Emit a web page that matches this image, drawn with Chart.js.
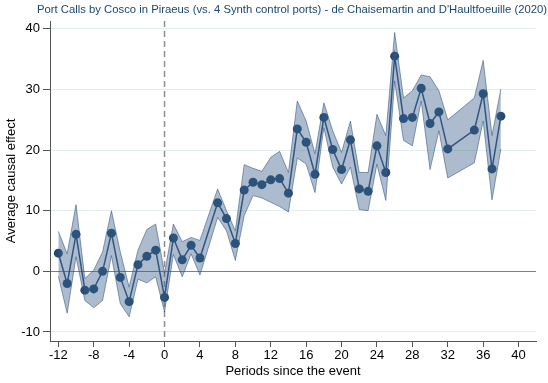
<!DOCTYPE html>
<html>
<head>
<meta charset="utf-8">
<script src="https://cdn.jsdelivr.net/npm/chart.js@4"></script>
<style>
  html, body { margin: 0; padding: 0; background: #fff; }
  #wrap { width: 548px; height: 383px; }
</style>
</head>
<body>
<div id="wrap"><canvas id="c"></canvas></div>
<script>
/* Event-study chart: effect estimates with a confidence band */

const periods = [-12, -11, -10, -9, -8, -7, -6, -5, -4, -3, -2, -1, 0, 1, 2, 3, 4,
    6, 7, 8, 9, 10, 11, 12, 13, 14, 15, 16, 17, 18, 19, 20, 21, 22, 23, 24, 25,
    26, 27, 28, 29, 30, 31, 32, 35, 36, 37, 38];
const effect = [3.0, -2.0, 6.1, -3.1, -2.9, 0.0, 6.3, -1.0, -5.0, 1.1, 2.5, 3.5, -4.3, 5.5, 1.9, 4.3, 2.2,
    11.3, 8.7, 4.6, 13.4, 14.7, 14.3, 15.1, 15.3, 12.9, 23.5, 21.3, 16.0, 25.4, 20.1, 16.8, 21.7, 13.6, 13.2, 20.7, 16.3,
    35.5, 25.2, 25.4, 30.2, 24.4, 26.3, 20.2, 23.3, 29.3, 16.9, 25.6];
const upper = [6.6, 2.9, 11.0, -1.2, 0.2, 3.2, 10.0, 3.2, -2.6, 3.5, 6.9, 7.8, -0.3, 7.8, 4.9, 5.6, 5.1,
    13.6, 10.0, 6.7, 17.6, 17.0, 16.5, 18.8, 19.8, 16.3, 28.1, 24.8, 19.4, 27.8, 23.2, 19.6, 24.8, 16.3, 16.3, 25.9, 22.4,
    39.4, 28.6, 29.8, 32.4, 32.1, 29.8, 25.0, 28.6, 34.8, 22.4, 30.1];
const lower = [-0.8, -6.9, 2.4, -4.8, -6.0, -4.8, 2.6, -5.3, -7.5, -1.3, -1.9, -0.9, -6.7, 2.8, -0.9, 2.9, -0.6,
    8.9, 6.7, 1.8, 9.2, 12.5, 12.1, 11.4, 10.7, 9.8, 18.7, 17.7, 13.0, 23.7, 17.2, 14.4, 17.2, 10.2, 10.0, 17.7, 11.7,
    31.4, 21.6, 20.7, 28.1, 16.8, 23.2, 15.4, 17.9, 24.8, 11.8, 20.2];

const xTicks = [-12, -8, -4, 0, 4, 8, 12, 16, 20, 24, 28, 32, 36, 40];
const yTicks = [-10, 0, 10, 20, 30, 40];

const TITLE = "Port Calls by Cosco in Piraeus (vs. 4 Synth control ports) - de Chaisemartin and D'Haultfoeuille (2020)";
const FONT = 'Liberation Sans, Arial, sans-serif';
const toPts = arr => periods.map((p, i) => ({ x: p, y: arr[i] }));

// dashed vertical line at the event date
const eventLine = {
    id: 'eventLine',
    beforeDatasetsDraw(chart) {
        const { ctx, chartArea, scales } = chart;
        const x = scales.x.getPixelForValue(0);
        ctx.save();
        ctx.strokeStyle = '#8f8f8f';
        ctx.lineWidth = 1.5;
        ctx.setLineDash([6, 4]);
        ctx.beginPath();
        ctx.moveTo(x, chartArea.top);
        ctx.lineTo(x, chartArea.bottom);
        ctx.stroke();
        ctx.restore();
    }
};

// title sits a bit right of centre, like the original
const topTitle = {
    id: 'topTitle',
    afterDraw(chart) {
        const ctx = chart.ctx;
        ctx.save();
        ctx.fillStyle = '#1a476f';
        ctx.font = '11.3px ' + FONT;
        ctx.textAlign = 'center';
        ctx.textBaseline = 'middle';
        ctx.fillText(TITLE, 292, 10);
        ctx.restore();
    }
};

new Chart(document.getElementById('c'), {
    type: 'line',
    data: {
        datasets: [
            {
                label: 'lower',
                data: toPts(lower),
                borderColor: 'rgba(45,80,120,0.55)', borderWidth: 1,
                pointRadius: 0, fill: false, tension: 0
            },
            {
                label: 'upper',
                data: toPts(upper),
                borderColor: 'rgba(45,80,120,0.55)', borderWidth: 1,
                backgroundColor: 'rgba(58,95,138,0.42)',
                pointRadius: 0, fill: '-1', tension: 0
            },
            {
                label: 'effect',
                data: toPts(effect),
                borderColor: '#2c4f78', borderWidth: 1.5,
                pointRadius: 4.5, pointBackgroundColor: '#244a72', pointBorderWidth: 0,
                fill: false, tension: 0
            }
        ]
    },
    options: {
        responsive: true, maintainAspectRatio: false, animation: false,
        layout: { padding: { left: 0, right: 12, top: 21, bottom: 0 } },
        plugins: {
            legend: { display: false },
            tooltip: { enabled: false },
            title: { display: false }
        },
        scales: {
            x: {
                type: 'linear', min: -12.94, max: 41.97,
                afterBuildTicks: s => { s.ticks = xTicks.map(v => ({ value: v })); },
                afterFit: s => { s.height = 42; },
                grid: { drawOnChartArea: false, tickLength: 6, color: '#555' },
                border: { color: '#555', width: 1 },
                ticks: { color: '#000', padding: 1, maxRotation: 0, font: { family: FONT, size: 13 } },
                title: { display: true, text: 'Periods since the event', color: '#000', padding: { top: 0, bottom: 4 }, font: { family: FONT, size: 13 } }
            },
            y: {
                type: 'linear', min: -11.49, max: 41.3,
                afterBuildTicks: s => { s.ticks = yTicks.map(v => ({ value: v })); },
                afterFit: s => { s.width = 50; },
                grid: {
                    color: c => (c.tick && c.tick.value === 0 ? '#7f7f7f' : '#e4eef0'),
                    tickColor: '#555', tickLength: 7
                },
                border: { color: '#555', width: 1 },
                ticks: { color: '#000', padding: 3, font: { family: FONT, size: 13 } },
                title: { display: true, text: 'Average causal effect', color: '#000', padding: { top: 4, bottom: 0 }, font: { family: FONT, size: 13 } }
            }
        }
    },
    plugins: [eventLine, topTitle]
});
</script>
</body>
</html>
